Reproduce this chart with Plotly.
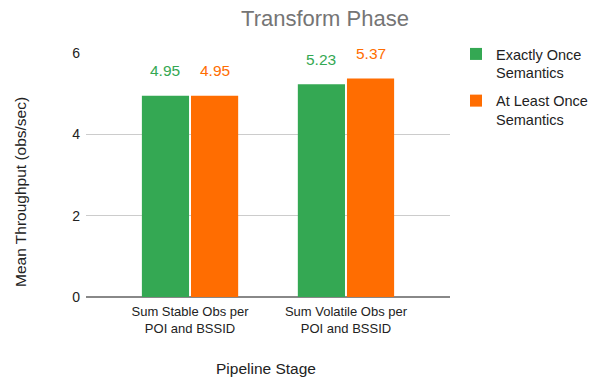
import plotly.graph_objects as go

stages = ["Sum Stable Obs per<br>POI and BSSID", "Sum Volatile Obs per<br>POI and BSSID"]
exactly_once = [4.95, 5.23]
at_least_once = [4.95, 5.37]
series_names = ["Exactly Once<br>Semantics", "At Least Once<br>Semantics"]
colors = ["#34a853", "#ff6d01"]

FONT = "Liberation Sans, Arial"
W, H = 603, 380
L, R, T, B = 86, 153, 53, 83
PW, PH = W - L - R, H - T - B


def px_x(x):
    return (x - L) / PW


def px_y(y):
    return (H - B - y) / PH


fig = go.Figure()
for k, (name, vals, col) in enumerate(zip(series_names, [exactly_once, at_least_once], colors)):
    fig.add_trace(go.Bar(x=stages, y=vals, name=name, marker_color=col,
                         marker_line_width=0, legendgroup=f"g{k}"))

# value labels floating above each bar
offsets = [-0.163, 0.163]
for vals, col, off in zip([exactly_once, at_least_once], colors, offsets):
    for i, v in enumerate(vals):
        fig.add_annotation(x=i + off, y=v, text=f"{v:.2f}", showarrow=False,
                           yshift=25, font=dict(color=col, size=15.5, family=FONT))

# axis titles
fig.add_annotation(xref="paper", yref="paper", x=px_x(20), y=px_y(192),
                   xanchor="center", yanchor="middle",
                   text="Mean Throughput (obs/sec)", textangle=-90, showarrow=False,
                   font=dict(size=15.5, color="#222222", family=FONT))
fig.add_annotation(xref="paper", yref="paper", x=px_x(266), y=px_y(368),
                   xanchor="center", yanchor="middle",
                   text="Pipeline Stage", showarrow=False,
                   font=dict(size=15.5, color="#222222", family=FONT))

fig.update_layout(
    width=W, height=H,
    margin=dict(l=L, r=R, t=T, b=B, autoexpand=False),
    plot_bgcolor="white", paper_bgcolor="white",
    font=dict(family=FONT, color="#222222", size=12),
    title=dict(text="Transform Phase", x=325 / W, xanchor="center",
               y=1 - 18 / H, yanchor="middle",
               font=dict(size=22, color="#757575")),
    barmode="group", bargap=0.37, bargroupgap=0.04,
    showlegend=True,
    legend=dict(x=px_x(456), y=px_y(38), xanchor="left", yanchor="top", valign="top",
                font=dict(size=14.5, color="#222222"), tracegroupgap=6,
                itemsizing="constant"),
    xaxis=dict(range=[-0.667, 1.667], showgrid=False, ticks="",
               ticklabelstandoff=5,
               tickfont=dict(size=13, color="#222222")),
    yaxis=dict(range=[0, 6], tickvals=[0, 2, 4, 6], gridcolor="#cccccc",
               zeroline=True, zerolinecolor="#888888", zerolinewidth=2,
               tickfont=dict(size=14, color="#222222"), ticks="",
               ticklabelstandoff=5),
)

fig.write_html("out.html")
